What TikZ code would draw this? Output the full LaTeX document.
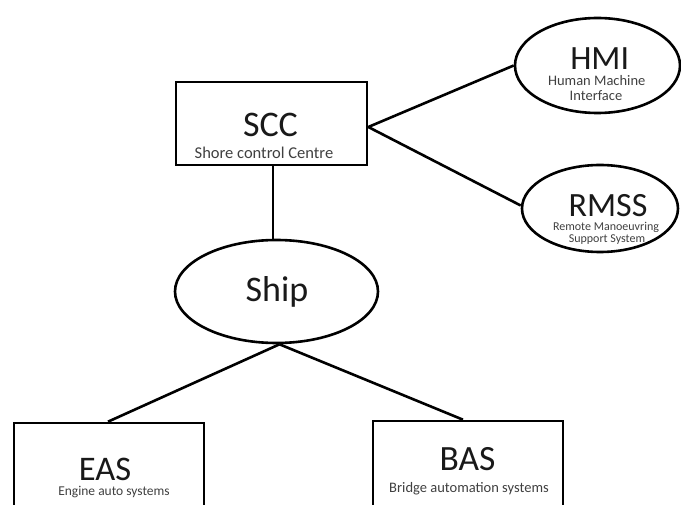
\documentclass[tikz,border=0pt]{standalone}
\usepackage{fontspec}
\setmainfont{Carlito}
\usetikzlibrary{shapes.geometric}
\definecolor{smallgray}{HTML}{404040}
\begin{document}
\begin{tikzpicture}[x=1pt,y=-1pt,
  box/.style={draw, line width=2.6pt, rectangle, inner sep=0pt},
  oval/.style={draw, line width=2.6pt, ellipse, inner sep=0pt},
  link/.style={line width=2.6pt},
  big/.style={font=\fontsize{#1}{#1}\selectfont, text=black!90, inner sep=0pt, anchor=base},
  small/.style={font=\fontsize{#1}{#1}\selectfont, text=smallgray, inner sep=0pt, anchor=base}]
\useasboundingbox (0,0) rectangle (681,505);
\fill[white] (0,0) rectangle (681,505);
\clip (0,0) rectangle (681,505);
% shapes
\node[box, minimum width=191pt, minimum height=83pt] (scc) at (271.5,123.5) {};
\node[oval, minimum width=165pt, minimum height=95pt] (hmi) at (597.5,65.5) {};
\node[oval, minimum width=156pt, minimum height=87pt] (rmss) at (600,208.5) {};
\node[oval, minimum width=203pt, minimum height=103pt] (ship) at (276.5,291.5) {};
\node[box, minimum width=190pt, minimum height=104pt] (eas) at (109,475) {};
\node[box, minimum width=190pt, minimum height=106pt] (bas) at (468,474) {};
% texts
\node[big=36] (scct) at (270.5,136.5) {SCC};
\node[small=16.5] (sccs) at (264,158.5) {Shore control Centre};
\node[big=34] (hmit) at (599.7,70) {HMI};
\node[small=14.5] (hmis1) at (596.7,86) {Human Machine};
\node[small=14.5] (hmis2) at (596,101) {Interface};
\node[big=34] (rmsst) at (608,217) {RMSS};
\node[small=12] (rmss1) at (606,230.5) {Remote Manoeuvring};
\node[small=12] (rmss2) at (607,243) {Support System};
\node[big=36] (shipt) at (277,302) {Ship};
\node[big=34.5] (east) at (105,480.5) {EAS};
\node[small=13.5] (eass) at (114,495.5) {Engine auto systems};
\node[big=35.5] (bast) at (467.5,470) {BAS};
\node[small=14.5] (bass) at (469,493) {Bridge automation systems};
% connectors
\draw[link] ([yshift=-3.5pt]scc.east) -- (hmi.west);
\draw[link] ([yshift=-3.5pt]scc.east) -- ([yshift=3pt]rmss.west);
\draw[link] ([xshift=1.5pt]scc.south) -- ([xshift=1.5pt]scc.south |- ship.north);
\draw[link] ([xshift=3pt]ship.south) -- ([xshift=-1pt]eas.north);
\draw[link] ([xshift=3pt]ship.south) -- ([xshift=-5pt]bas.north);
\end{tikzpicture}
\end{document}
